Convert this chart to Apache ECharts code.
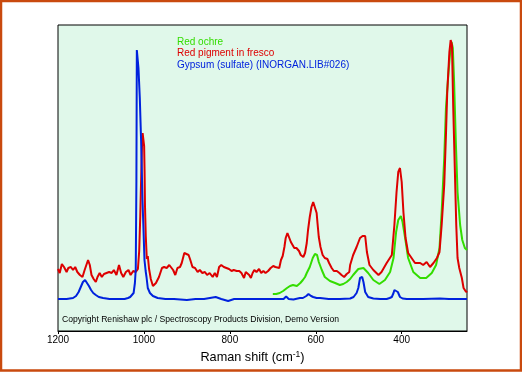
<!DOCTYPE html>
<html>
<head>
<meta charset="utf-8">
<script src="https://cdn.jsdelivr.net/npm/echarts@6/dist/echarts.min.js"></script>
<style>
html,body{margin:0;padding:0;background:#fff;}
#chart{width:522px;height:372px;}
</style>
</head>
<body>
<div id="chart"></div>
<script>
// Raman shift (cm-1) vs intensity (arbitrary units)
const tickValues = [1200, 1000, 800, 600, 400];
const seriesNames = ['Red ochre', 'Red pigment in fresco', 'Gypsum (sulfate) (INORGAN.LIB#026)'];

const redOchre = [
  [700,37],[692,37],[684,38],[676,40],[667,43],[660,45],[653,46],[644,45],[636,48],[630,51],
  [625,54],[621,58],[614,64],[607,73],[602,77],[597,76],[593,69],[586,61],[579,54],[567,50],
  [555,48],[544,46],[536,47],[528,49],[520,52],[513,56],[501,62],[489,63],[478,58],[466,51],
  [452,47],[439,51],[427,59],[419,73],[413,99],[408,111],[402,115],[398,109],[392,93],[385,73],
  [373,59],[357,53],[343,53],[330,58],[320,66],[312,83],[307,119],[301,173],[297,223],[291,259],
  [287,280],[284,289],[281,283],[278,249],[274,189],[270,139],[264,106],[259,91],[253,83],[248,81]
];

const redFresco = [
  [1200,62],[1199,61],[1196,58],[1191,67],[1186,64],[1180,59],[1176,63],[1170,64],[1165,61],[1160,64],
  [1155,59],[1149,56],[1143,54],[1138,61],[1134,66],[1130,71],[1126,66],[1122,56],[1117,52],[1112,49],
  [1108,54],[1103,58],[1098,54],[1093,57],[1087,58],[1081,59],[1075,58],[1070,61],[1064,56],[1058,66],
  [1053,58],[1048,54],[1042,59],[1036,61],[1031,56],[1025,60],[1019,59],[1014,62],[1011,80],[1008.5,115],
  [1006.6,150],[1004.5,185],[1003,198],[1001,198],[999.5,185],[998.5,160],[997.5,125],[995.7,95],[993.3,72],[991,75],
  [988,62],[984,52],[979,45],[975,44],[972,48],[965,54],[958,63],[953,64],[947,63],[941,66],
  [937,68],[932,61],[927,56],[922,63],[916,64],[912,68],[906,78],[902,80],[896,76],[892,71],
  [887,64],[881,63],[875,59],[870,61],[864,58],[858,59],[853,56],[847,58],[840,54],[835,58],
  [830,54],[825,64],[820,66],[814,64],[808,63],[802,62],[796,60],[791,61],[784,60],[778,60],
  [773,58],[767,53],[763,59],[759,61],[755,56],[751,53],[747,58],[743,61],[738,59],[732,62],
  [727,58],[722,60],[717,58],[711,60],[705,63],[699,65],[694,64],[690,66],[685,63],[681,71],
  [677,75],[673,84],[670,93],[666,98],[662,96],[658,89],[654,86],[650,83],[645,83],[639,80],
  [635,76],[629,74],[625,78],[621,88],[618,101],[614,114],[610,124],[606,129],[602,128],[598,118],
  [596,108],[593,94],[589,84],[584,76],[579,73],[573,72],[569,68],[563,63],[558,60],[551,60],
  [545,58],[540,56],[534,54],[528,57],[522,59],[520,66],[513,76],[505,84],[497,93],[491,95],
  [485,95],[481,79],[475,66],[466,61],[454,56],[447,59],[435,68],[423,76],[417,106],[412,139],
  [408,159],[404,163],[400,149],[396,119],[391,93],[385,78],[377,73],[369,68],[357,68],[350,66],
  [342,69],[334,64],[326,68],[318,73],[312,79],[307,106],[301,146],[297,196],[294,239],[289,279],
  [286,291],[283,286],[280,223],[276,156],[273,106],[270,73],[266,63],[260,53],[256,43],[250,39],[248,40]
];

const gypsum = [
  [1200,32],[1180,32],[1165,33],[1158,35],[1152,39],[1147,44],[1142,49],[1137,51],[1133,49],[1128,45],
  [1123,41],[1118,38],[1112,36],[1105,34],[1095,33],[1080,32],[1060,32],[1045,32],[1037,33],[1032,34],
  [1028,35],[1024,38],[1021,48],[1019,62],[1017.5,150],[1016.5,281],[1014,281],[1012.7,263],[1009.6,233],[1006.6,191],
  [1003.3,131],[1001,101],[998.7,71],[996,60],[994,54],[991,43],[986,38],[979,35],[968,33],[950,32],
  [930,32],[900,31],[880,32],[860,32],[833,34],[820,32],[804,30],[790,32],[776,32],[750,32],
  [720,32],[700,32],[690,32],[675,32],[669,34.5],[663,32],[652,31.5],[637,33],[630,33],[622,35],
  [617,37],[611,35],[606,34],[598,33],[590,33],[570,32],[544,32],[520,32.5],[512,34],[509,35],
  [505,38],[501,43],[497,53],[492,54],[489,49],[485,39],[478,34],[466,32.5],[450,32],[435,32],
  [428,33],[423,34],[419,38],[417,41],[413,43],[409,39],[404,34],[398,32.5],[388,32],[350,32],
  [311,32.5],[290,32],[248,32]
];

const colors = ['#33dd00', '#dd0000', '#0022dd'];
const FONT = '"Liberation Sans", Arial, Helvetica, sans-serif';

const chart = echarts.init(document.getElementById('chart'), null, {renderer: 'canvas'});
chart.setOption({
  animation: false,
  backgroundColor: '#ffffff',
  grid: {
    left: 58, top: 25, width: 409, height: 306,
    show: true, backgroundColor: '#e0f8ea', borderColor: '#000000', borderWidth: 1
  },
  legend: {
    orient: 'vertical',
    left: 167, top: 32,
    icon: 'none',
    itemWidth: 0, itemHeight: 10, itemGap: 1.7,
    selectedMode: false,
    textStyle: {fontFamily: FONT, fontSize: 10},
    data: seriesNames.map((n, i) => ({name: n, textStyle: {color: colors[i]}}))
  },
  xAxis: {
    type: 'value',
    min: 248, max: 1200, inverse: true,
    name: 'Raman shift (cm{sup|-1})',
    nameLocation: 'middle', nameGap: 17,
    nameTextStyle: {
      fontFamily: FONT, fontSize: 12.7, color: '#000', padding: [0, 20, 0, 0],
      rich: {sup: {fontFamily: FONT, fontSize: 8.5, color: '#000', verticalAlign: 'top', padding: [0, 0, 6, 0]}}
    },
    axisLine: {onZero: false, lineStyle: {color: '#000', width: 1}},
    axisTick: {show: true, customValues: tickValues, length: 3, lineStyle: {color: '#000'}},
    axisLabel: {customValues: tickValues, formatter: v => String(v), fontFamily: FONT, fontSize: 10, color: '#000', margin: 4},
    splitLine: {show: false}
  },
  yAxis: {
    type: 'value', min: 0, max: 306, show: false, splitLine: {show: false}
  },
  graphic: [
    {type: 'rect', silent: true, z: 100,
     shape: {x: 1, y: 1, width: 520, height: 369.5},
     style: {fill: 'none', stroke: '#c94a0e', lineWidth: 2.5}},
    {type: 'text', left: 62, top: 315, z: 50,
     style: {text: 'Copyright Renishaw plc / Spectroscopy Products Division, Demo Version',
             font: '8.6px ' + FONT, fill: '#000'}}
  ],
  series: [
    {name: seriesNames[0], type: 'line', data: redOchre, showSymbol: false, color: colors[0],
     lineStyle: {width: 2, color: colors[0]}},
    {name: seriesNames[1], type: 'line', data: redFresco, showSymbol: false, color: colors[1],
     lineStyle: {width: 2, color: colors[1]}},
    {name: seriesNames[2], type: 'line', data: gypsum, showSymbol: false, color: colors[2],
     lineStyle: {width: 2, color: colors[2]}}
  ]
});
</script>
</body>
</html>
